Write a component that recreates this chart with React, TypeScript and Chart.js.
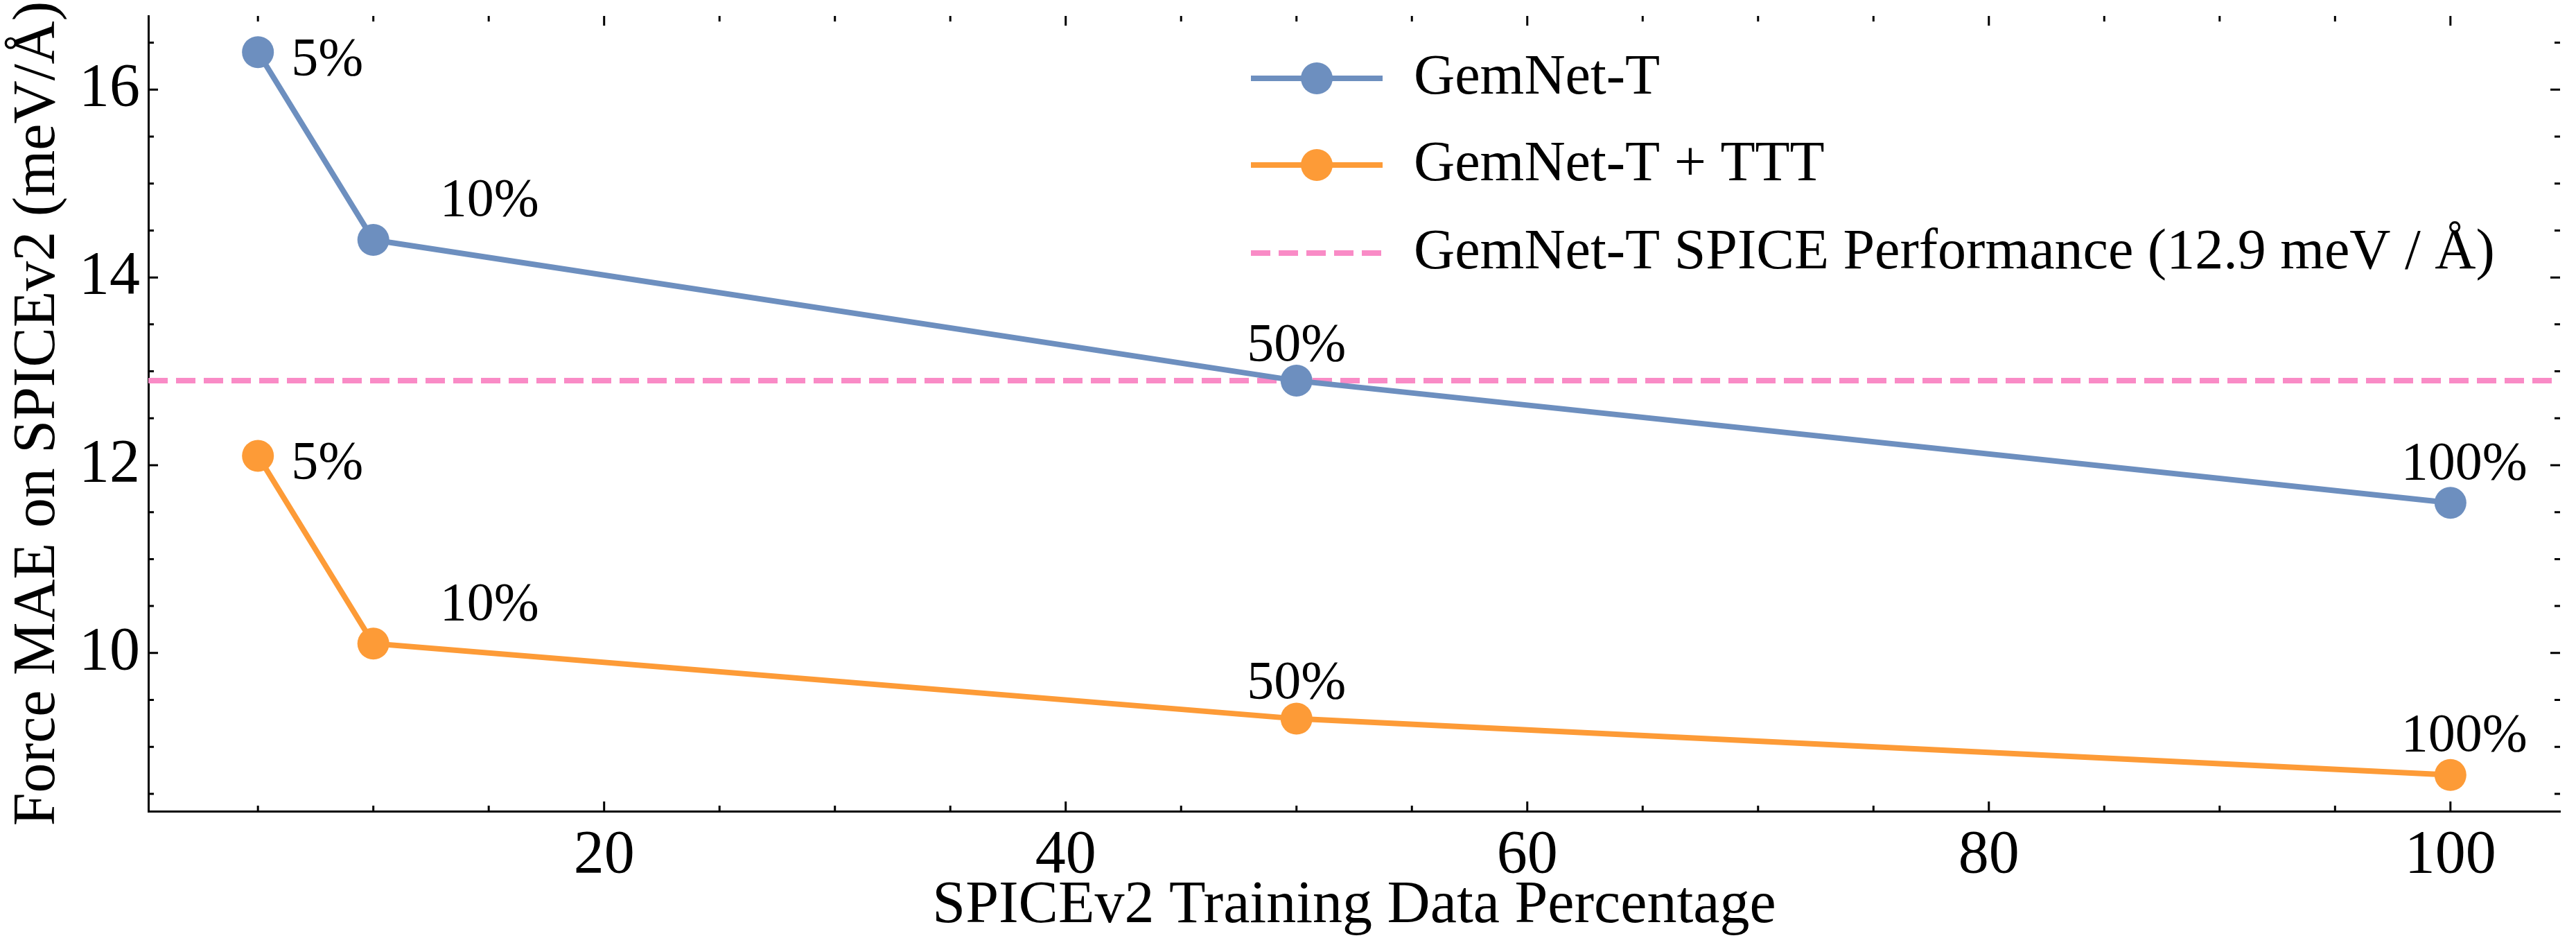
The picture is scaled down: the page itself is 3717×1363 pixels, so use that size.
import { useEffect, useRef } from 'react';
import Chart from 'chart.js/auto';

const percentages = [5, 10, 50, 100];
const gemnetMae = [16.4, 14.4, 12.9, 11.6];
const gemnetTttMae = [12.1, 10.1, 9.3, 8.7];
const pointLabels = ['5%', '10%', '50%', '100%'];
const spiceBaseline = 12.9;
const seriesNames = ['GemNet-T', 'GemNet-T + TTT', 'GemNet-T SPICE Performance (12.9 meV / Å)'];
const xMajorTicks = [20, 40, 60, 80, 100];
const yMajorTicks = [10, 12, 14, 16];

const BLUE = '#6d8fbf';
const ORANGE = '#fd9b37';
const PINK = '#f98bc6';
const FONT = '"Liberation Serif", "DejaVu Serif", serif';

export default function App() {
  const canvasRef = useRef<HTMLCanvasElement>(null);

  useEffect(() => {
    document.body.style.margin = '0';
    if (!canvasRef.current) return;

    // inward ticks, point labels and legend, matplotlib style
    const extras = {
      id: 'extras',
      afterDraw(chart: any) {
        const ctx = chart.ctx as CanvasRenderingContext2D;
        const xs = chart.scales.x;
        const ys = chart.scales.y;
        const area = chart.chartArea;
        ctx.save();
        ctx.strokeStyle = '#000';
        ctx.lineWidth = 3;
        for (let v = 5; v <= 104; v += 5) {
          const len = xMajorTicks.includes(v) ? 14 : 8;
          const px = xs.getPixelForValue(v);
          ctx.beginPath();
          ctx.moveTo(px, area.bottom); ctx.lineTo(px, area.bottom - len);
          ctx.moveTo(px, area.top); ctx.lineTo(px, area.top + len);
          ctx.stroke();
        }
        for (let v = 8.5; v <= 16.6; v += 0.5) {
          const len = yMajorTicks.includes(v) ? 14 : 8;
          const py = ys.getPixelForValue(v);
          ctx.beginPath();
          ctx.moveTo(area.left, py); ctx.lineTo(area.left + len, py);
          ctx.moveTo(area.right, py); ctx.lineTo(area.right - len, py);
          ctx.stroke();
        }

        // point labels
        const offsets = [
          { dx: 48, dy: 12, align: 'left' },
          { dx: 96, dy: -55, align: 'left' },
          { dx: 0, dy: -50, align: 'center' },
          { dx: 20, dy: -55, align: 'center' },
        ];
        ctx.fillStyle = '#000';
        ctx.font = `78px ${FONT}`;
        ctx.textBaseline = 'middle';
        [gemnetMae, gemnetTttMae].forEach((series) => {
          series.forEach((val, i) => {
            const o = offsets[i];
            ctx.textAlign = o.align as CanvasTextAlign;
            ctx.fillText(pointLabels[i], xs.getPixelForValue(percentages[i]) + o.dx, ys.getPixelForValue(val) + o.dy);
          });
        });

        // legend
        const rows = [113, 238, 365];
        const colors = [BLUE, ORANGE, PINK];
        ctx.textAlign = 'left';
        ctx.font = `82px ${FONT}`;
        rows.forEach((y, i) => {
          ctx.strokeStyle = colors[i];
          ctx.lineWidth = 8;
          ctx.setLineDash(i === 2 ? [28, 12] : []);
          ctx.beginPath();
          ctx.moveTo(1805, y); ctx.lineTo(1995, y);
          ctx.stroke();
          ctx.setLineDash([]);
          if (i < 2) {
            ctx.fillStyle = colors[i];
            ctx.beginPath();
            ctx.arc(1900, y, 23, 0, Math.PI * 2);
            ctx.fill();
          }
          ctx.fillStyle = '#000';
          ctx.fillText(seriesNames[i], 2040, y);
        });
        ctx.restore();
      },
    };

    const chart = new Chart(canvasRef.current, {
      type: 'line',
      data: {
        datasets: [
          {
            label: seriesNames[0],
            data: percentages.map((x, i) => ({ x, y: gemnetMae[i] })),
            borderColor: BLUE, backgroundColor: BLUE,
            borderWidth: 8, pointRadius: 23, pointHoverRadius: 23, pointBorderWidth: 0,
          },
          {
            label: seriesNames[1],
            data: percentages.map((x, i) => ({ x, y: gemnetTttMae[i] })),
            borderColor: ORANGE, backgroundColor: ORANGE,
            borderWidth: 8, pointRadius: 23, pointHoverRadius: 23, pointBorderWidth: 0,
          },
          {
            label: seriesNames[2],
            data: [{ x: 0.25, y: spiceBaseline }, { x: 104.75, y: spiceBaseline }],
            borderColor: PINK, borderWidth: 8, borderDash: [28, 12], pointRadius: 0,
          },
        ],
      },
      options: {
        responsive: false,
        animation: false,
        layout: { padding: { top: 14, right: 14, left: 0, bottom: 0 } },
        plugins: { legend: { display: false }, tooltip: { enabled: false } },
        scales: {
          x: {
            type: 'linear', min: 0.25, max: 104.75,
            grid: { display: false, drawTicks: false },
            border: { display: true, color: '#000', width: 3 },
            afterBuildTicks: (s: any) => { s.ticks = xMajorTicks.map((v) => ({ value: v })); },
            afterFit: (s: any) => { s.height = 193; s.paddingLeft = 0; s.paddingRight = 0; },
            ticks: { color: '#000', font: { family: FONT, size: 88 }, padding: 12 },
            title: { display: true, text: 'SPICEv2 Training Data Percentage', color: '#000', font: { family: FONT, size: 86 }, padding: { top: 0 } },
          },
          y: {
            type: 'linear', min: 8.315, max: 16.785,
            grid: { display: false, drawTicks: false },
            border: { display: true, color: '#000', width: 3 },
            afterBuildTicks: (s: any) => { s.ticks = yMajorTicks.map((v) => ({ value: v })); },
            afterFit: (s: any) => { s.width = 214; s.paddingTop = 0; s.paddingBottom = 0; },
            ticks: { color: '#000', font: { family: FONT, size: 88 }, padding: 12 },
            title: { display: true, text: 'Force MAE on SPICEv2 (meV/Å)', color: '#000', font: { family: FONT, size: 86 }, padding: { bottom: 0 } },
          },
        },
      },
      plugins: [extras],
    } as any);

    return () => chart.destroy();
  }, []);

  return (
    <div style={{ background: '#fff' }}>
      <canvas ref={canvasRef} width={3717} height={1363} style={{ display: 'block' }} />
    </div>
  );
}
